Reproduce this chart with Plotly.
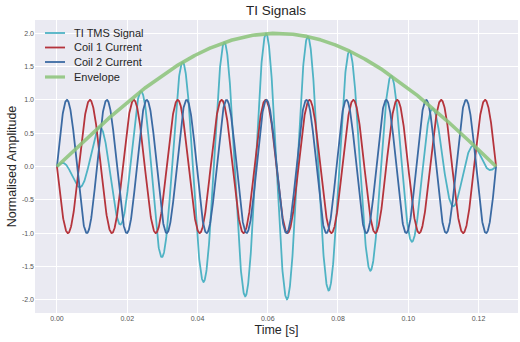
import numpy as np
import plotly.graph_objects as go

# Parameters
t_start, t_end = 0.0, 0.125          # seconds
f_coil1 = 80.0                        # Hz (red, starts downward)
f_coil2 = 88.0                        # Hz (blue, starts upward)
amp = 1.0
n_samples = 2000

series_names = ["TI TMS Signal", "Coil 1 Current", "Coil 2 Current", "Envelope"]
series_colors = ["#4fb3c4", "#b5343c", "#3b6aa3", "#8cc47a"]
series_widths = [1.8, 1.8, 1.8, 3.6]

x_ticks = [0.00, 0.02, 0.04, 0.06, 0.08, 0.10, 0.12]
x_tick_labels = ["0.00", "0.02", "0.04", "0.06", "0.08", "0.10", "0.12"]
y_ticks = [-2.0, -1.5, -1.0, -0.5, 0.0, 0.5, 1.0, 1.5, 2.0]
y_tick_labels = ["-2.0", "-1.5", "-1.0", "-0.5", "0.0", "0.5", "1.0", "1.5", "2.0"]

t = np.linspace(t_start, t_end, n_samples)
coil1 = -amp * np.sin(2 * np.pi * f_coil1 * t)
coil2 = amp * np.sin(2 * np.pi * f_coil2 * t)
ti = coil1 + coil2
envelope = 2 * amp * np.abs(np.sin(np.pi * (f_coil2 - f_coil1) * t))
ys = [ti, coil1, coil2, envelope]

fig = go.Figure()
for name, y, c, w in zip(series_names, ys, series_colors, series_widths):
    fig.add_trace(go.Scatter(x=t, y=y, mode="lines", name=name, showlegend=False,
                             line=dict(color=c, width=w),
                             opacity=0.85 if name == "Envelope" else 1.0))

# Layout geometry (pixels)
W, H = 520, 342
ML, MR, MT, MB = 35, 2, 20, 29
PW, PH = W - ML - MR, H - MT - MB

def fx(px):
    return (px - ML) / PW

def fy(py):
    return (H - MB - py) / PH

font = "Liberation Sans, Arial, sans-serif"

# Frameless legend like the reference (tight rows)
legend_rows_y = [33, 47.5, 62, 77]
for name, c, w, py in zip(series_names, series_colors, series_widths, legend_rows_y):
    fig.add_shape(type="line", xref="paper", yref="paper",
                  x0=fx(45), x1=fx(65), y0=fy(py), y1=fy(py),
                  line=dict(color=c, width=w if w < 3 else 3.2),
                  opacity=0.85 if name == "Envelope" else 1.0)
    fig.add_annotation(text=name, xref="paper", yref="paper", x=fx(72), y=fy(py),
                       xanchor="left", yanchor="middle", showarrow=False,
                       font=dict(size=11, color="#262626", family=font))

fig.update_layout(
    width=W, height=H,
    margin=dict(l=ML, r=MR, t=MT, b=MB),
    paper_bgcolor="white",
    plot_bgcolor="#eaeaf2",
    font=dict(family=font, color="#262626"),
    title=dict(text="TI Signals", x=276 / W, xanchor="center", y=1 - 10 / H, yanchor="middle",
               font=dict(size=13.5, color="#262626")),
    showlegend=False,
)
fig.update_xaxes(range=[-0.00625, 0.13125], tickvals=x_ticks, ticktext=x_tick_labels,
                 showgrid=True, gridcolor="white", gridwidth=1, zeroline=False,
                 showline=False, ticks="", tickfont=dict(size=7, color="#555555"),
                 automargin=False,
                 title=dict(text="Time [s]", font=dict(size=12.5, color="#262626"), standoff=4))
fig.update_yaxes(range=[-2.2, 2.2], tickvals=y_ticks, ticktext=y_tick_labels,
                 showgrid=True, gridcolor="white", gridwidth=1, zeroline=False,
                 showline=False, ticks="", tickfont=dict(size=7, color="#555555"),
                 automargin=False,
                 title=dict(text="Normalised Amplitude", font=dict(size=12.5, color="#262626"), standoff=2))

fig.write_html("out.html", config={"displayModeBar": False},
               post_script="document.body.style.margin='0';")
